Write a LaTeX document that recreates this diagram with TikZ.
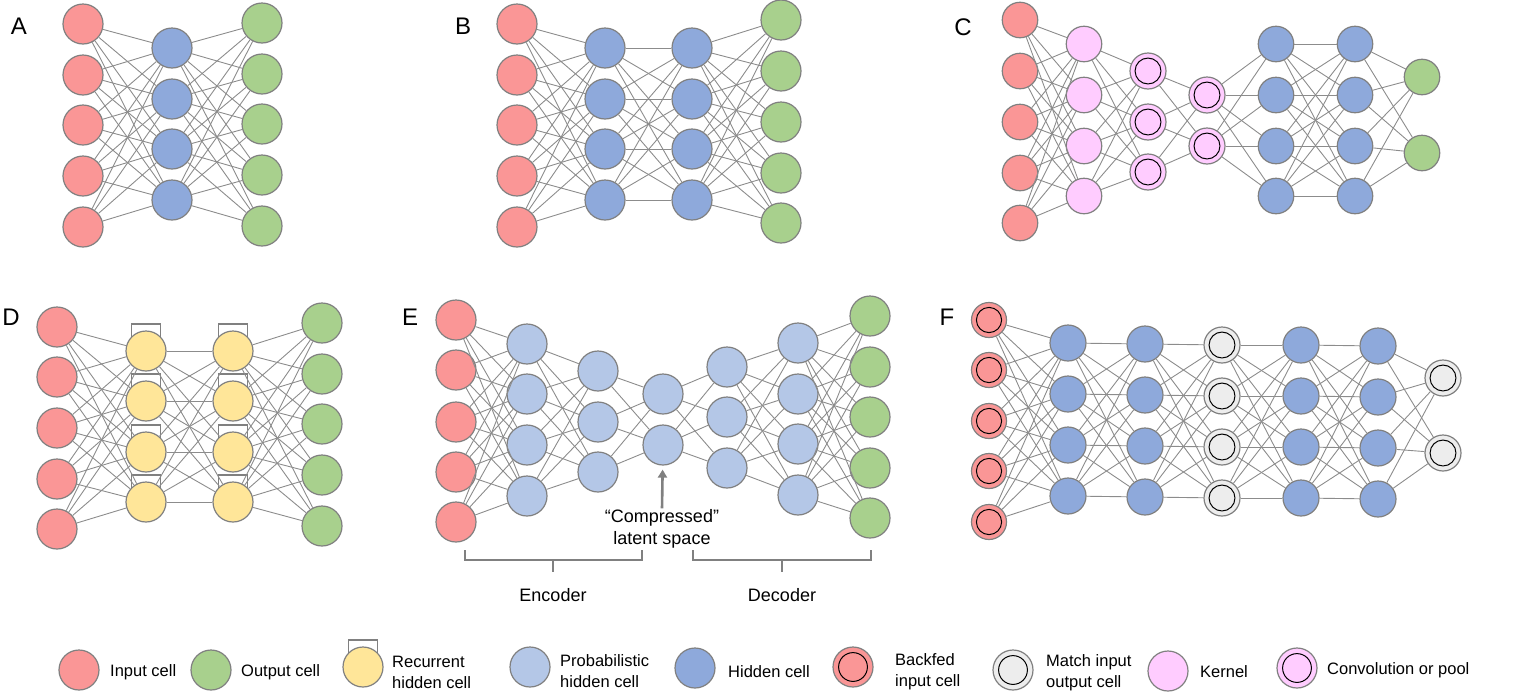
\documentclass[tikz,border=0pt]{standalone}
\usepackage{fontspec}
\setmainfont{Liberation Sans}
\usetikzlibrary{arrows.meta,backgrounds}

\definecolor{inred}{RGB}{250,150,150}
\definecolor{outgreen}{RGB}{168,208,141}
\definecolor{hidblue}{RGB}{142,169,219}
\definecolor{probblue}{RGB}{180,199,231}
\definecolor{recyellow}{RGB}{255,230,153}
\definecolor{kernpink}{RGB}{255,204,255}
\definecolor{matchgray}{RGB}{237,237,237}
\definecolor{cellline}{RGB}{128,128,128}
\definecolor{wiregray}{RGB}{140,140,140}

\tikzset{
  cell/.style={circle, draw=cellline, line width=1.2pt, inner sep=0pt, minimum size=#1},
  cell/.default=40pt,
  ringed/.style={path picture={\draw[black, line width=1pt] (path picture bounding box.center) circle (0.36*#1);}},
  incell/.style={cell=#1, fill=inred}, incell/.default=40pt,
  outcell/.style={cell=#1, fill=outgreen}, outcell/.default=40pt,
  hidcell/.style={cell=#1, fill=hidblue}, hidcell/.default=40pt,
  probcell/.style={cell=#1, fill=probblue}, probcell/.default=40pt,
  reccell/.style={cell=#1, fill=recyellow}, reccell/.default=40pt,
  kerncell/.style={cell=#1, fill=kernpink}, kerncell/.default=40pt,
  convcell/.style={cell=#1, fill=kernpink, ringed=#1}, convcell/.default=40pt,
  backcell/.style={cell=#1, fill=inred, ringed=#1}, backcell/.default=40pt,
  matchcell/.style={cell=#1, fill=matchgray, ringed=#1}, matchcell/.default=40pt,
  edge/.style={draw=wiregray, line width=0.9pt},
  recbox/.style={draw=cellline, line width=1.2pt},
  bracket/.style={draw=cellline, line width=2.2pt},
  panel/.style={inner sep=0pt, font=\fontsize{24}{24}\selectfont},
  legtext/.style={anchor=west, inner sep=0pt, align=left, font=\fontsize{16.5}{21}\selectfont},
  bigtext/.style={inner sep=1pt, align=center, font=\fontsize{18}{22}\selectfont}
}

% one column of cells: name, x, style, list of y
\newcommand{\NetLayer}[4]{\foreach \yy [count=\k] in {#4} \node[#3] (#1-\k) at (#2,\yy) {};}
% every cell of one column to every cell of the next
\newcommand{\NetWire}[4]{\foreach \i in {1,...,#2} \foreach \j in {1,...,#4} \draw[edge] (#1-\i) -- (#3-\j);}
% recurrent loop box above a cell
\newcommand{\RecBox}[1]{\draw[recbox] ([xshift=-14.5pt,yshift=4pt]#1.center) rectangle ([xshift=14.5pt,yshift=27pt]#1.center);}

\begin{document}
\begin{tikzpicture}[x=1pt, y=-1pt]
\useasboundingbox (0,0) rectangle (1528,694);

% A
\node[panel] (labA) at (19,26) {A};
\NetLayer{a1}{83}{incell}{24,75,125,176,227}
\NetLayer{a2}{172}{hidcell}{48,99,149,200}
\NetLayer{a3}{262}{outcell}{23,74,124,175,226}
\NetWire{a1}{5}{a2}{4}
\NetWire{a2}{4}{a3}{5}

% B
\node[panel] (labB) at (463,26) {B};
\NetLayer{b1}{517}{incell}{24,75,125,176,227}
\NetLayer{b2}{605}{hidcell}{48,99,149,200}
\NetLayer{b3}{692}{hidcell}{48,99,149,200}
\NetLayer{b4}{781}{outcell}{20,71,122,173,223}
\NetWire{b1}{5}{b2}{4}
\NetWire{b2}{4}{b3}{4}
\NetWire{b3}{4}{b4}{5}

% C
\node[panel] (labC) at (963,27) {C};
\NetLayer{c1}{1020}{incell=35.5pt}{20,71,122,173,223}
\NetLayer{c2}{1084}{kerncell=35.5pt}{44,95,146,196}
\NetLayer{c3}{1148}{convcell=36pt}{71,122,172}
\NetLayer{c4}{1207}{convcell=36pt}{95,146}
\NetLayer{c5}{1276}{hidcell=35.5pt}{44,95,146,196}
\NetLayer{c6}{1355}{hidcell=35.5pt}{44,95,146,196}
\NetLayer{c7}{1422}{outcell=35.5pt}{77,153}
\NetWire{c1}{5}{c2}{4}
\NetWire{c2}{4}{c3}{3}
\NetWire{c3}{3}{c4}{2}
\NetWire{c4}{2}{c5}{4}
\NetWire{c5}{4}{c6}{4}
\NetWire{c6}{4}{c7}{2}

% D
\node[panel] (labD) at (11,317) {D};
\NetLayer{d1}{57}{incell}{327,377,428,479,529}
\NetLayer{d2}{146}{reccell}{351,401,452,502}
\NetLayer{d3}{233}{reccell}{351,401,452,502}
\NetLayer{d4}{322}{outcell}{323,374,424,475,526}
\begin{scope}[on background layer]
\foreach \k in {1,...,4} {\RecBox{d2-\k} \RecBox{d3-\k}}
\end{scope}
\NetWire{d1}{5}{d2}{4}
\NetWire{d2}{4}{d3}{4}
\NetWire{d3}{4}{d4}{5}

% E
\node[panel] (labE) at (410,317) {E};
\NetLayer{e1}{456}{incell}{320,370,422,472,522}
\NetLayer{e2}{527}{probcell}{344,394,445,496}
\NetLayer{e3}{598}{probcell}{371,422,472}
\NetLayer{e4}{663}{probcell}{394,445}
\NetLayer{e5}{727}{probcell}{367,417,468}
\NetLayer{e6}{798}{probcell}{343,394,444,495}
\NetLayer{e7}{870}{outcell}{316,367,417,468,518}
\NetWire{e1}{5}{e2}{4}
\NetWire{e2}{4}{e3}{3}
\NetWire{e3}{3}{e4}{2}
\NetWire{e4}{2}{e5}{3}
\NetWire{e5}{3}{e6}{4}
\NetWire{e6}{4}{e7}{5}
\node[bigtext] (latent) at (662,529) {``Compressed''\\latent space};
\draw[draw=cellline, line width=2.6pt, -{Triangle[length=8pt,width=9pt]}, shorten >=4pt] (latent.north) -- (e4-2);
\draw[bracket] (465,550) -- (465,560) -- (642,560) -- (642,550) (553,560) -- (553,572);
\draw[bracket] (693,550) -- (693,560) -- (871,560) -- (871,550) (782,560) -- (782,572);
\node[bigtext] (enc) at (553,595) {Encoder};
\node[bigtext] (dec) at (782,595) {Decoder};

% F
\node[panel] (labF) at (947,317) {F};
\NetLayer{f1}{989}{backcell=35pt}{320,370,421,471,522}
\NetLayer{f2}{1068}{hidcell=36pt}{343,394,445,496}
\NetLayer{f3}{1145}{hidcell=36pt}{344,395,446,497}
\NetLayer{f4}{1222}{matchcell=36pt}{345,396,447,498}
\NetLayer{f5}{1301}{hidcell=36pt}{345,396,447,498}
\NetLayer{f6}{1378}{hidcell=36pt}{346,397,448,499}
\NetLayer{f7}{1443}{matchcell=36pt}{378,453}
\NetWire{f1}{5}{f2}{4}
\NetWire{f2}{4}{f3}{4}
\NetWire{f3}{4}{f4}{4}
\NetWire{f4}{4}{f5}{4}
\NetWire{f5}{4}{f6}{4}
\NetWire{f6}{4}{f7}{2}

% legend
\node[incell] (k1) at (79,670) {};
\node[legtext] (t1) at (110,672) {Input cell};
\node[outcell] (k2) at (211,670) {};
\node[legtext] (t2) at (241,672) {Output cell};
\node[reccell] (k3) at (363,667) {};
\begin{scope}[on background layer]\RecBox{k3}\end{scope}
\node[legtext] (t3) at (392,672) {Recurrent\\hidden cell};
\node[probcell] (k4) at (530,667) {};
\node[legtext] (t4) at (560,671.5) {Probabilistic\\hidden cell};
\node[hidcell] (k5) at (695,668) {};
\node[legtext] (t5) at (728,672) {Hidden cell};
\node[backcell] (k6) at (853,667) {};
\node[legtext] (t6) at (895,671.5) {Backfed\\input cell};
\node[matchcell] (k7) at (1013,670) {};
\node[legtext] (t7) at (1046,673) {Match input\\output cell};
\node[kerncell] (k8) at (1168,671) {};
\node[legtext] (t8) at (1200,672) {Kernel};
\node[convcell] (k9) at (1297,668) {};
\node[legtext] (t9) at (1327,670) {Convolution or pool};
\end{tikzpicture}
\end{document}
